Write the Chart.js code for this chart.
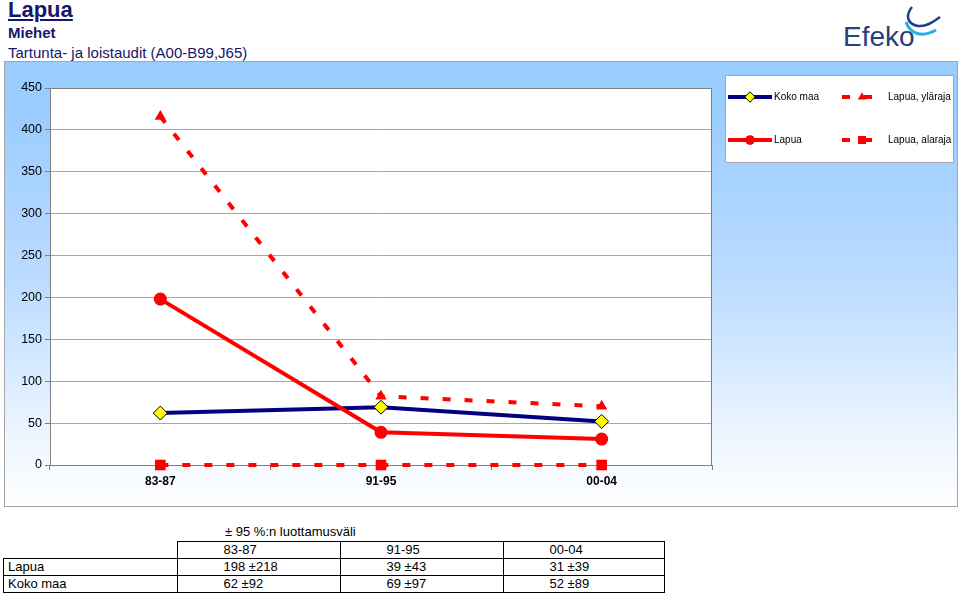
<!DOCTYPE html>
<html lang="fi">
<head>
<meta charset="UTF-8">
<title>Lapua - Miehet</title>
<script src="https://cdn.jsdelivr.net/npm/chart.js@4.4.0/dist/chart.umd.min.js"></script>
<style>
  body { margin:0; width:960px; height:597px; position:relative; overflow:hidden; background:#fff;
         font-family:'Liberation Sans', Arial, sans-serif; }
  .t { position:absolute; left:8px; color:#16166a; white-space:nowrap; }
  #t1 { top:-3px; font-size:22px; font-weight:bold; text-decoration:underline; }
  #t2 { top:24px; font-size:15px; font-weight:bold; }
  #t3 { top:44px; font-size:15px; }
  #logo { position:absolute; left:836px; top:0; }
  #chartBox { position:absolute; left:0; top:60px; }
  #ciTitle { position:absolute; left:225px; top:524px; font-size:13px; }
  table { position:absolute; left:3px; top:541px; border-collapse:collapse; font-size:13px; }
  td { height:16px; padding:0 0 0 4px; border:1.5px solid #000; line-height:16px; white-space:nowrap; }
  td.v { padding-left:46px; }
  td.blank { border:none; border-bottom:1.5px solid #000; }
</style>
</head>
<body>
<div class="t" id="t1">Lapua</div>
<div class="t" id="t2">Miehet</div>
<div class="t" id="t3">Tartunta- ja loistaudit (A00-B99,J65)</div>
<svg id="logo" width="124" height="56">
  <text x="7" y="46" font-size="28" font-family="'Liberation Sans', Arial, sans-serif" fill="#24407f">Efeko</text>
  <path d="M76 7 C70 14 70 24 82 26 C90 27 97 22 104 17" stroke="#1e3f8a" stroke-width="2.5" fill="none"/>
  <path d="M70 22 C74 34 86 38 100 30" stroke="#22b3e6" stroke-width="3" fill="none"/>
</svg>
<div id="chartBox"><canvas id="chart" width="960" height="452"></canvas></div>
<div id="ciTitle">± 95 %:n luottamusväli</div>
<table id="ciTable"></table>
<script>
const categories = ['83-87', '91-95', '00-04'];
const kokoMaa = [62, 69, 52];
const lapua = [198, 39, 31];
const lapuaYlaraja = [416, 82, 70];
const lapuaAlaraja = [0, 0, 0];
const kokoMaaCI = [92, 97, 89];
const lapuaCI = [218, 43, 39];
const yTicksMax = 450;

// table under the chart
const tbl = document.getElementById('ciTable');
const widths = [173, 162, 162, 160];
let html = '<tr><td class="blank" style="width:' + (widths[0] - 4) + 'px"></td>';
categories.forEach((c, i) => { html += '<td class="v" style="width:' + (widths[i + 1] - 46) + 'px">' + c + '</td>'; });
html += '</tr>';
[['Lapua', lapua, lapuaCI], ['Koko maa', kokoMaa, kokoMaaCI]].forEach(r => {
  html += '<tr><td>' + r[0] + '</td>';
  r[1].forEach((v, i) => { html += '<td class="v">' + v + ' ±' + r[2][i] + '</td>'; });
  html += '</tr>';
});
tbl.innerHTML = html;

const frame = {
  id: 'frame',
  beforeDraw(chart) {
    const ctx = chart.ctx, a = chart.chartArea;
    const g = ctx.createLinearGradient(0, 1, 0, 447);
    g.addColorStop(0, '#99ccff');
    g.addColorStop(0.1, '#99ccff');
    g.addColorStop(0.5, '#bcdcff');
    g.addColorStop(0.85, '#eef6ff');
    g.addColorStop(1, '#ffffff');
    ctx.save();
    ctx.fillStyle = g;
    ctx.fillRect(4, 1, 954, 446);
    ctx.strokeStyle = '#a6a6a6';
    ctx.lineWidth = 1;
    ctx.strokeRect(4.5, 1.5, 953, 445);
    ctx.fillStyle = '#fff';
    ctx.fillRect(a.left, a.top, a.right - a.left, a.bottom - a.top);
    ctx.restore();
  },
  beforeDatasetsDraw(chart) {
    const ctx = chart.ctx, a = chart.chartArea;
    ctx.save();
    ctx.strokeStyle = '#808080';
    ctx.lineWidth = 1;
    ctx.strokeRect(a.left + 0.5, a.top + 0.5, a.right - a.left - 1, a.bottom - a.top);
    ctx.restore();
  },
  afterDraw(chart) {
    const ctx = chart.ctx;
    ctx.save();
    ctx.fillStyle = '#fff';
    ctx.fillRect(725, 15, 228, 87);
    ctx.strokeStyle = '#a6a6a6';
    ctx.lineWidth = 1;
    ctx.strokeRect(725.5, 15.5, 228, 87);
    const spots = [[3, 728, 772, 750, 774, 37], [2, 728, 772, 750, 774, 80],
                   [1, 842, 876, 862, 888, 37], [0, 842, 876, 862, 888, 80]];
    spots.forEach(s => {
      const ds = chart.data.datasets[s[0]];
      ctx.strokeStyle = ds.borderColor;
      ctx.lineWidth = ds.borderWidth;
      ctx.setLineDash(ds.borderDash || []);
      ctx.beginPath();
      ctx.moveTo(s[1], s[5]);
      ctx.lineTo(s[2], s[5]);
      ctx.stroke();
      ctx.setLineDash([]);
      ctx.fillStyle = ds.pointBackgroundColor;
      ctx.strokeStyle = ds.pointBorderColor;
      ctx.lineWidth = ds.pointBorderWidth;
      Chart.helpers.drawPoint(ctx, { pointStyle: ds.pointStyle, radius: ds.pointRadius * 0.75, rotation: 0, borderWidth: ds.pointBorderWidth }, s[3], s[5]);
      ctx.fillStyle = '#000';
      ctx.font = "10px 'Liberation Sans', Arial, sans-serif";
      ctx.textBaseline = 'middle';
      ctx.fillText(ds.label, s[4], s[5]);
    });
    ctx.restore();
  }
};

Chart.defaults.font.family = "'Liberation Sans', Arial, sans-serif";
new Chart(document.getElementById('chart').getContext('2d'), {
  type: 'line',
  data: {
    labels: categories,
    datasets: [
      { label: 'Lapua, alaraja', data: lapuaAlaraja, borderColor: '#ff0000', borderWidth: 4, borderDash: [8, 14],
        pointStyle: 'rect', pointRadius: 7.5, pointBackgroundColor: '#ff0000', pointBorderColor: '#ff0000', pointBorderWidth: 0, clip: false, order: 1 },
      { label: 'Lapua, yläraja', data: lapuaYlaraja, borderColor: '#ff0000', borderWidth: 4, borderDash: [8, 14],
        pointStyle: 'triangle', pointRadius: 6.5, pointBackgroundColor: '#ff0000', pointBorderColor: '#ff0000', pointBorderWidth: 0, clip: false, order: 2 },
      { label: 'Lapua', data: lapua, borderColor: '#ff0000', borderWidth: 4,
        pointStyle: 'circle', pointRadius: 6.5, pointBackgroundColor: '#ff0000', pointBorderColor: '#ff0000', pointBorderWidth: 0, clip: false, order: 3 },
      { label: 'Koko maa', data: kokoMaa, borderColor: '#000080', borderWidth: 4,
        pointStyle: 'rectRot', pointRadius: 7, pointBackgroundColor: '#ffff00', pointBorderColor: '#000000', pointBorderWidth: 1, clip: false, order: 4 }
    ]
  },
  options: {
    responsive: false,
    animation: false,
    layout: { padding: { left: 0, right: 248, top: 28, bottom: 0 } },
    plugins: { legend: { display: false }, tooltip: { enabled: false } },
    elements: { line: { tension: 0 } },
    scales: {
      x: {
        offset: true,
        grid: { offset: true, drawOnChartArea: false, tickLength: 5, color: '#808080' },
        border: { color: '#808080' },
        ticks: { color: '#000', font: { size: 12, weight: 'bold' }, padding: 4, maxRotation: 0 },
        afterFit(s) { s.height = 47; }
      },
      y: {
        min: 0, max: yTicksMax,
        grid: { color: '#a6a6a6', tickLength: 5, tickColor: '#808080' },
        border: { color: '#808080' },
        ticks: { stepSize: 50, color: '#000', font: { size: 12.5 }, padding: 3 },
        afterFit(s) { s.width = 50; }
      }
    }
  },
  plugins: [frame]
});
</script>
</body>
</html>
